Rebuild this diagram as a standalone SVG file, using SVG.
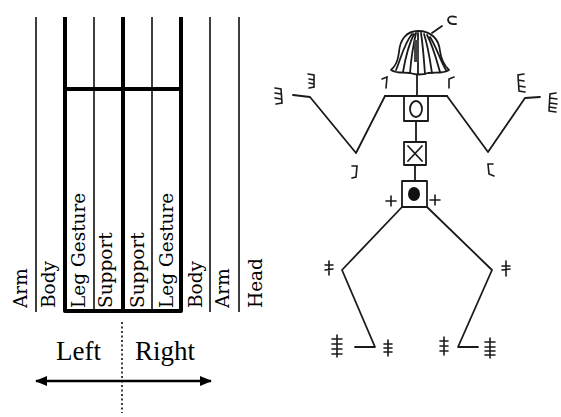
<svg xmlns="http://www.w3.org/2000/svg" width="561" height="417" viewBox="0 0 561 417">
  <style>
    .thin { stroke: #000; stroke-width: 1.5; fill: none; }
    .thick { stroke: #000; stroke-width: 4; fill: none; stroke-linejoin: round; }
    .col { font-family: "DejaVu Serif", "Liberation Serif", serif; font-size: 18.5px; fill: #000; }
    .side { font-family: "Liberation Serif", "Times New Roman", serif; font-size: 27px; fill: #000; }
    .ink { stroke: #1a1a1a; stroke-width: 1.8; fill: none; stroke-linecap: round; stroke-linejoin: round; }
    .sign { stroke: #1a1a1a; stroke-width: 1.6; fill: none; stroke-linecap: round; }
  </style>
  <defs>
    <marker id="head" viewBox="0 0 12 10" refX="11" refY="5" markerWidth="12" markerHeight="10" markerUnits="userSpaceOnUse" orient="auto-start-reverse">
      <path d="M0,0 L12,5 L0,10 Z" fill="#000"/>
    </marker>
  </defs>
  <rect width="561" height="417" fill="#fff"/>

  <!-- staff columns -->
  <g id="staff">
    <path class="thin" d="M36,17 V312 M94,17 V310 M152,17 V310 M210,17 V312 M239,17 V312"/>
    <path class="thick" d="M65,17 V311 H181 V17"/>
    <path class="thick" d="M123,17 V311 M65,89 H181"/>
  </g>

  <!-- column labels -->
  <g id="labels">
    <text class="col" transform="translate(27,308) rotate(-90)">Arm</text>
    <text class="col" transform="translate(55,308) rotate(-90)">Body</text>
    <text class="col" transform="translate(85,308) rotate(-90)">Leg Gesture</text>
    <text class="col" transform="translate(112,308) rotate(-90)">Support</text>
    <text class="col" transform="translate(144,308) rotate(-90)">Support</text>
    <text class="col" transform="translate(173,308) rotate(-90)">Leg Gesture</text>
    <text class="col" transform="translate(202,308) rotate(-90)">Body</text>
    <text class="col" transform="translate(229,308) rotate(-90)">Arm</text>
    <text class="col" transform="translate(262,308) rotate(-90)">Head</text>
  </g>

  <!-- left / right orientation -->
  <g id="orientation">
    <text class="side" x="56" y="360">Left</text>
    <text class="side" x="135" y="360">Right</text>
    <line x1="122" y1="322" x2="122" y2="413" stroke="#000" stroke-width="1.5" stroke-dasharray="2 2.5"/>
    <line x1="36" y1="381" x2="211" y2="381" stroke="#000" stroke-width="2.5" marker-start="url(#head)" marker-end="url(#head)"/>
  </g>

  <!-- figure: head -->
  <g id="head-figure">
    <path class="ink" fill="#fff" stroke-width="2" d="M418,31 C406,31 400,40 399,52 C398,61 396,66 391,70 C397,74 404,72 410,73 C416,75 422,75 428,73 C436,72 443,74 449,70 C444,65 441,59 440,51 C439,39 431,31 418,31 Z"/>
    <path class="ink" stroke-width="1.6" d="M412,34 C404,44 401,58 396,70 M414,34 C408,46 405,60 403,72 M416,33 C413,46 411,60 410,73 M418,33 C418,46 418,60 418,74 M421,33 C423,46 424,60 425,74 M424,34 C428,46 430,60 432,73 M427,35 C433,46 436,58 440,72 M430,37 C437,48 440,60 446,70"/>
    <path d="M414,40 L419,40 L419,62 L414,62 Z" fill="#444"/>
    <path class="ink" d="M432,33 L442,26"/>
    <path class="ink" d="M456,17 Q448,15 448,20 Q449,25 456,24"/>
  </g>

  <g id="connectors">
    <path class="ink" d="M417,75 V96"/>
    <path class="ink" d="M416,121 V142 M415,165 V181"/>
    <path class="ink" d="M385,96 H447"/>
    <path class="ink" d="M385,96 L356,153 L310,97 L293,95"/>
    <path class="ink" d="M447,96 L488,152 L525,98 L540,97"/>
    <path class="ink" d="M402,207 L342,270 L375,347 H355"/>
    <path class="ink" d="M427,207 L492,270 L458,347 H478"/>
  </g>

  <g id="chest">
    <rect class="ink" x="404" y="96" width="24" height="25"/>
    <ellipse class="ink" cx="416" cy="109" rx="6" ry="8"/>
  </g>
  <g id="waist">
    <rect class="ink" x="404" y="142" width="22" height="23"/>
    <path class="ink" d="M408,146 L422,161 M422,146 L408,161"/>
  </g>
  <g id="pelvis">
    <rect class="ink" x="402" y="181" width="25" height="26"/>
    <ellipse cx="414" cy="194" rx="6" ry="7" fill="#111"/>
    <path class="sign" d="M386,201 H396 M391,196 V206"/>
    <path class="sign" d="M430,200 H440 M435,195 V205"/>
  </g>

  <g id="left-arm-signs">
    <path class="sign" d="M382,79 L387,77 L386,88"/>
    <path class="sign" d="M352,166 L357,166 L356,177 L352,178"/>
    <path class="sign" d="M308,74 L314,75 L314,87 L309,88 M309,79 L314,80 M309,83 L314,84"/>
    <path class="sign" d="M275,88 L281,89 L282,103 L276,104 M275,93 L281,94 M275,98 L281,99"/>
  </g>
  <g id="right-arm-signs">
    <path class="sign" d="M449,88 L449,79 L454,77"/>
    <path class="sign" d="M493,164 L488,164 L489,174 L494,176"/>
    <path class="sign" d="M524,74 L518,75 L519,91 L525,92 M518,80 L524,81 M519,86 L525,87"/>
    <path class="sign" d="M556,93 L550,94 L549,111 M550,98 L557,99 M550,103 L557,104 M549,107 L556,108 M549,111 L556,112"/>
  </g>

  <g id="left-leg-signs">
    <path class="sign" d="M329,261 V275 M325,265 H333 M325,270 L333,269"/>
    <path class="sign" d="M337,335 V357 M332,339 H342 M332,344 H342 M332,349 H342 M332,354 H342"/>
    <path class="sign" d="M388,340 V356 M384,344 H392 M384,348 H392 M384,352 H392"/>
  </g>
  <g id="right-leg-signs">
    <path class="sign" d="M506,261 V276 M502,266 H510 M502,270 L510,269"/>
    <path class="sign" d="M444,337 V355 M440,341 H448 M440,346 H448 M440,351 H448"/>
    <path class="sign" d="M490,338 V358 M485,342 H495 M485,347 H495 M485,351 H495 M485,355 H495"/>
  </g>
</svg>
